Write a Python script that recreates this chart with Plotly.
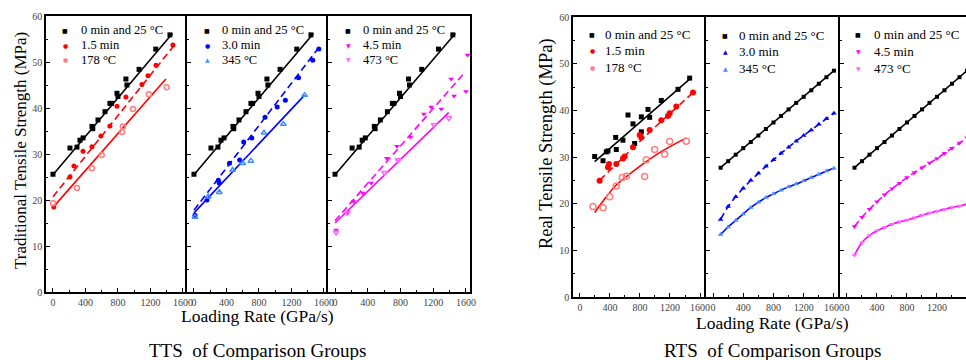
import plotly.graph_objects as go

W, H = 966, 360
SERIF = "Liberation Serif, Times New Roman, serif"

# ---------------- TTS data (left group) ----------------
tts_ref_x = [0, 209, 295, 332, 370, 480, 490, 554, 640, 701, 720, 788, 800, 898, 910, 1060, 1265, 1440]
tts_ref_y = [25.6, 31.3, 31.5, 33.0, 33.5, 36.0, 35.5, 37.4, 39.2, 41.0, 41.0, 43.2, 42.5, 46.3, 45.0, 48.4, 52.8, 55.9]
tts_ref_fit_x = [0, 1470]
tts_ref_fit_y = [25.5, 56.2]

tts_15_x = [10, 209, 258, 370, 480, 590, 701, 788, 898, 1095, 1170, 1268, 1477]
tts_15_y = [18.5, 25.0, 27.4, 30.6, 31.6, 33.9, 36.1, 40.4, 42.4, 45.1, 47.0, 49.3, 53.7]
tts_15_fit_x = [0, 1500]
tts_15_fit_y = [20.7, 53.8]

tts_178_x = [0, 295, 480, 600, 850, 860, 985, 1180, 1400]
tts_178_y = [19.3, 22.6, 26.9, 29.8, 34.8, 36.0, 39.8, 43.0, 44.5]
tts_178_fit_x = [0, 1390]
tts_178_fit_y = [18.4, 46.3]

tts_30_x = [12, 160, 300, 310, 437, 562, 612, 712, 875, 1025, 1125, 1287, 1462, 1537]
tts_30_y = [16.7, 20.0, 24.3, 23.7, 28.0, 28.7, 32.6, 33.5, 38.0, 40.2, 41.7, 46.6, 50.4, 52.8]
tts_30_fit_x = [0, 1540]
tts_30_fit_y = [17.8, 53.2]

tts_345_x = [12, 175, 312, 475, 600, 700, 862, 1100, 1362]
tts_345_y = [16.3, 20.7, 21.7, 26.5, 28.0, 28.5, 34.6, 36.5, 42.8]
tts_345_fit_x = [0, 1362]
tts_345_fit_y = [17.2, 42.8]

tts_45_x = [13, 152, 228, 340, 442, 632, 758, 922, 1086, 1175, 1300, 1420, 1455, 1600, 1620]
tts_45_y = [13.5, 17.4, 19.7, 21.5, 23.7, 29.1, 31.7, 33.7, 38.7, 40.2, 39.8, 46.3, 42.6, 43.6, 51.5]
tts_45_fit_x = [0, 1570]
tts_45_fit_y = [15.5, 47.4]

tts_473_x = [13, 152, 606, 770, 1212, 1390]
tts_473_y = [13.0, 17.2, 25.9, 28.7, 36.3, 37.8]
tts_473_fit_x = [0, 1390]
tts_473_fit_y = [15.0, 39.0]

# ---------------- RTS data (right group) ----------------
rts_ref_x = [196, 307, 351, 373, 476, 484, 573, 640, 707, 729, 818, 818, 907, 929, 1084, 1307, 1462]
rts_ref_y = [30.1, 29.2, 31.1, 31.3, 34.2, 31.6, 33.6, 39.0, 37.1, 32.9, 38.6, 35.4, 40.2, 38.5, 42.1, 44.5, 46.9]
rts_ref_fit_x = [196, 1470]
rts_ref_fit_y = [29.0, 46.8]

rts_15_x = [262, 373, 387, 484, 573, 596, 707, 796, 818, 929, 1084, 1173, 1196, 1284, 1507]
rts_15_y = [24.9, 27.8, 28.5, 28.5, 29.7, 30.1, 32.1, 34.7, 34.2, 35.8, 37.9, 38.8, 39.4, 40.8, 43.8]
rts_15_fit_x = [262, 880, 1507]
rts_15_fit_y = [25.0, 34.6, 43.8]

rts_178_x = [173, 307, 396, 484, 564, 618, 862, 884, 996, 1129, 1196, 1418]
rts_178_y = [19.4, 19.1, 21.5, 23.8, 25.6, 25.9, 25.8, 29.4, 31.6, 30.6, 33.3, 33.4]
rts_178_fit_x = [196, 300, 484, 700, 884, 1100, 1418]
rts_178_fit_y = [18.1, 20.4, 24.0, 26.8, 29.0, 31.3, 34.1]

rate = [100, 200, 300, 400, 500, 600, 700, 800, 900, 1000, 1100, 1200, 1300, 1400, 1500, 1600]
rts_ref_curve = [27.7, 29.1, 30.5, 31.9, 33.2, 34.6, 36.0, 37.4, 38.8, 40.2, 41.6, 42.9, 44.3, 45.7, 47.1, 48.5]
rts_30_curve = [16.6, 19.4, 21.5, 23.3, 25.0, 26.5, 28.0, 29.4, 30.8, 32.1, 33.4, 34.6, 35.8, 37.0, 38.2, 39.4]
rts_345_curve = [13.4, 15.0, 16.4, 17.8, 19.2, 20.3, 21.3, 22.1, 22.9, 23.6, 24.2, 24.9, 25.6, 26.3, 27.0, 27.6]
rts_45_curve = [15.1, 17.1, 18.8, 20.4, 21.9, 23.2, 24.4, 25.6, 26.7, 27.7, 28.7, 29.7, 30.8, 31.9, 33.0, 34.1]
rts_473_curve = [9.0, 11.7, 13.2, 14.2, 14.9, 15.6, 16.1, 16.5, 17.0, 17.5, 18.0, 18.4, 18.8, 19.2, 19.5, 19.9]

x_ticks = [0, 400, 800, 1200, 1600]
x_tick_labels = ["0", "400", "800", "1200", "1600"]
y_ticks = [0, 10, 20, 30, 40, 50, 60]

legend_names = ["0 min and 25 °C", "1.5 min", "178 °C", "3.0 min", "345 °C", "4.5 min", "473 °C"]

BLACK = "#000000"
RED = "#FF0000"
PINK = "#FF7F7F"
BLUE = "#0000FF"
LBLUE = "#3F8FFF"
MAG = "#FF00FF"
LMAG = "#FF66FF"

fig = go.Figure()


def pts(x, y, ax, color, symbol, size, open_=False):
    marker = dict(color=color, symbol=symbol, size=size)
    if open_:
        marker["line"] = dict(color=color, width=1.5)
    fig.add_trace(go.Scatter(x=x, y=y, mode="markers", marker=marker,
                             xaxis="x" + ax, yaxis="y" + ax, showlegend=False))


def line(x, y, ax, color, dash="solid", shape="linear"):
    fig.add_trace(go.Scatter(x=x, y=y, mode="lines", line=dict(color=color, width=1.6, dash=dash, shape=shape),
                             xaxis="x" + ax, yaxis="y" + ax, showlegend=False, hoverinfo="skip"))


DASH = "7px,4px"

# TTS panels
for ax, c_dash, c_sol, d1, d2, sy1, sy2 in [
    ("", RED, PINK,
     (tts_15_x, tts_15_y, tts_15_fit_x, tts_15_fit_y), (tts_178_x, tts_178_y, tts_178_fit_x, tts_178_fit_y), "circle", "circle-open"),
    ("2", BLUE, LBLUE,
     (tts_30_x, tts_30_y, tts_30_fit_x, tts_30_fit_y), (tts_345_x, tts_345_y, tts_345_fit_x, tts_345_fit_y), "circle", "triangle-up-open"),
    ("3", MAG, LMAG,
     (tts_45_x, tts_45_y, tts_45_fit_x, tts_45_fit_y), (tts_473_x, tts_473_y, tts_473_fit_x, tts_473_fit_y), "triangle-down", "triangle-down-open"),
]:
    line(tts_ref_fit_x, tts_ref_fit_y, ax, BLACK)
    line(d1[2], d1[3], ax, c_dash, DASH)
    line(d2[2], d2[3], ax, c_dash)
    pts(tts_ref_x, tts_ref_y, ax, BLACK, "square", 5)
    pts(d1[0], d1[1], ax, c_dash, sy1, 5)
    pts(d2[0], d2[1], ax, c_sol, sy2, 5, open_=True)

# RTS panel 1
line(rts_ref_fit_x, rts_ref_fit_y, "4", BLACK)
line(rts_15_fit_x, rts_15_fit_y, "4", RED, DASH, "spline")
line(rts_178_fit_x, rts_178_fit_y, "4", RED, "solid", "spline")
pts(rts_ref_x, rts_ref_y, "4", BLACK, "square", 5)
pts(rts_15_x, rts_15_y, "4", RED, "circle", 6)
pts(rts_178_x, rts_178_y, "4", PINK, "circle-open", 6, open_=True)

# RTS panel 2
line(rate, rts_ref_curve, "5", BLACK)
line(rate, rts_30_curve, "5", BLUE, DASH, "spline")
line(rate, rts_345_curve, "5", BLUE, "solid", "spline")
pts(rate, rts_ref_curve, "5", BLACK, "square", 4)
pts(rate, rts_30_curve, "5", BLUE, "triangle-up", 5)
pts(rate, rts_345_curve, "5", LBLUE, "triangle-up", 5)

# RTS panel 3
line(rate, rts_ref_curve, "6", BLACK)
line(rate, rts_45_curve, "6", MAG, DASH, "spline")
line(rate, rts_473_curve, "6", MAG, "solid", "spline")
pts(rate, rts_ref_curve, "6", BLACK, "square", 4)
pts(rate, rts_45_curve, "6", MAG, "triangle-down", 5)
pts(rate, rts_473_curve, "6", LMAG, "triangle-down", 5)


def px(x):
    return x / W


def py(y):
    return 1 - y / H


tick_font = dict(family=SERIF, size=10, color="#444")


def xaxis(d0, d1, rng, anchor):
    return dict(domain=[px(d0), px(d1)], range=rng, anchor=anchor, showline=True, linecolor="black",
                linewidth=1.6, mirror=True, ticks="inside", ticklen=4, tickwidth=1, tickcolor="black",
                tickvals=x_ticks, ticktext=x_tick_labels, tickfont=tick_font, showgrid=False, zeroline=False,
                automargin=False,
                minor=dict(tickvals=[200, 600, 1000, 1400], ticks="inside", ticklen=2, tickcolor="black"))


def yaxis(t, b, anchor, first, mirror):
    return dict(domain=[py(b), py(t)], range=[0, 60], anchor=anchor, showline=True, linecolor="black",
                linewidth=1.6, mirror=mirror, ticks="inside", ticklen=4, tickwidth=1,
                tickcolor="black", tickvals=y_ticks, tickfont=tick_font, showticklabels=first,
                showgrid=False, zeroline=False, automargin=False,
                minor=dict(tickvals=[5, 15, 25, 35, 45, 55], ticks="inside", ticklen=2, tickcolor="black"))


TRX = [-86, 1650]
layout = dict(
    width=W, height=H, margin=dict(l=0, r=0, t=0, b=0, pad=0, autoexpand=False),
    paper_bgcolor="white", plot_bgcolor="white",
    font=dict(family=SERIF, color="black"),
    xaxis=xaxis(46, 187, TRX, "y"), yaxis=yaxis(16, 292, "x", True, False),
    xaxis2=xaxis(187, 328, TRX, "y2"), yaxis2=yaxis(16, 292, "x2", False, False),
    xaxis3=xaxis(328, 470, TRX, "y3"), yaxis3=yaxis(16, 292, "x3", False, True),
    xaxis4=xaxis(573, 706, [-93, 1680], "y4"), yaxis4=yaxis(17, 297, "x4", True, False),
    xaxis5=xaxis(706, 840, [-93, 1680], "y5"), yaxis5=yaxis(17, 297, "x5", False, False),
    xaxis6=xaxis(840, 966, [-93, 1587], "y6"), yaxis6=yaxis(17, 297, "x6", False, False),
    showlegend=False,
)

ann = []


def text(t, x, y, size, angle=0, xanchor="center"):
    ann.append(dict(text=t, x=px(x), y=py(y), xref="paper", yref="paper", xanchor=xanchor, yanchor="middle",
                    showarrow=False, textangle=angle, font=dict(family=SERIF, size=size, color="black")))


text("Loading Rate (GPa/s)", 257, 316, 17.5)
text("Loading Rate (GPa/s)", 772, 323, 17.5)
text("TTS\u00a0 of Comparison Groups", 257, 350, 19)
text("RTS\u00a0 of Comparison Groups", 772, 350, 19)
text("Traditional Tensile Strength (MPa)", 20, 151, 17, -90)
text("Real Tensile Strength (MPa)", 546, 144, 18.5, -90)

# manual legends (marker glyph + label)
legend_specs = [
    (65, 79, [30, 45, 60], 12.5, [("■", BLACK, legend_names[0]), ("●", RED, legend_names[1]), ("●", PINK, legend_names[2])]),
    (207, 220, [30, 45, 60], 12.5, [("■", BLACK, legend_names[0]), ("●", BLUE, legend_names[3]), ("▲", LBLUE, legend_names[4])]),
    (348, 361, [30, 45, 60], 12.5, [("■", BLACK, legend_names[0]), ("▼", MAG, legend_names[5]), ("▼", LMAG, legend_names[6])]),
    (592, 603, [34, 51, 67], 13, [("■", BLACK, legend_names[0]), ("●", RED, legend_names[1]), ("●", PINK, legend_names[2])]),
    (725, 737, [36, 52, 68], 13, [("■", BLACK, legend_names[0]), ("▲", BLUE, legend_names[3]), ("▲", LBLUE, legend_names[4])]),
    (858, 872, [35, 52, 68], 13, [("■", BLACK, legend_names[0]), ("▼", MAG, legend_names[5]), ("▼", LMAG, legend_names[6])]),
]
for mx, tx, rows, fs, entries in legend_specs:
    for yy, (g, c, lab) in zip(rows, entries):
        ann.append(dict(text=g, x=px(mx), y=py(yy), xref="paper", yref="paper", xanchor="center",
                        yanchor="middle", showarrow=False, font=dict(family="DejaVu Sans", size=6, color=c)))
        text(lab, tx, yy, fs, xanchor="left")

layout["annotations"] = ann

fig.update_layout(**layout)
fig.write_html("out.html", config={"displayModeBar": False},
               post_script="document.body.style.margin='0';document.body.style.overflow='hidden';")
